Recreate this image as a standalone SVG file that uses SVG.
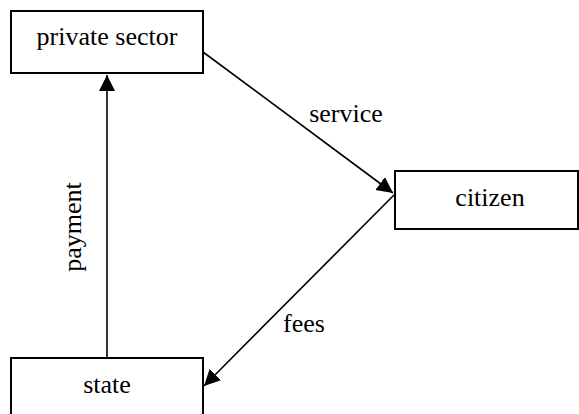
<svg xmlns="http://www.w3.org/2000/svg" width="579" height="414" viewBox="0 0 579 414">
<style>
.box{fill:#fff;stroke:#000;stroke-width:2}
.lbl{font-family:'Liberation Serif','Times New Roman',Tinos,serif;font-size:26px;fill:#000}
.edge{stroke:#000;stroke-width:1.6;fill:none}
</style>
<defs>
<marker id="ah" viewBox="0 0 10 10" refX="10" refY="5" markerWidth="16" markerHeight="17" markerUnits="userSpaceOnUse" orient="auto">
<path d="M0,0 L10,5 L0,10 Z" fill="#000"/>
</marker>
</defs>
<g id="private-sector"><rect class="box" x="11" y="11" width="192" height="62"/><text class="lbl" x="107" y="45" text-anchor="middle">private sector</text></g>
<g id="citizen"><rect class="box" x="395" y="171" width="183" height="58"/><text class="lbl" x="490" y="206" text-anchor="middle">citizen</text></g>
<g id="state"><rect class="box" x="11" y="358" width="192" height="66"/><text class="lbl" x="107" y="393" text-anchor="middle">state</text></g>
<g id="connectors">
<line class="edge" x1="107" y1="358" x2="107" y2="75" marker-end="url(#ah)"/>
<line class="edge" x1="203" y1="52" x2="393" y2="193" marker-end="url(#ah)"/>
<line class="edge" x1="394" y1="195" x2="204" y2="386" marker-end="url(#ah)"/>
<text class="lbl" x="346" y="122" text-anchor="middle">service</text>
<text class="lbl" x="304" y="332" text-anchor="middle">fees</text>
<text class="lbl" transform="translate(81,227) rotate(-90)" text-anchor="middle">payment</text>
</g>
</svg>
